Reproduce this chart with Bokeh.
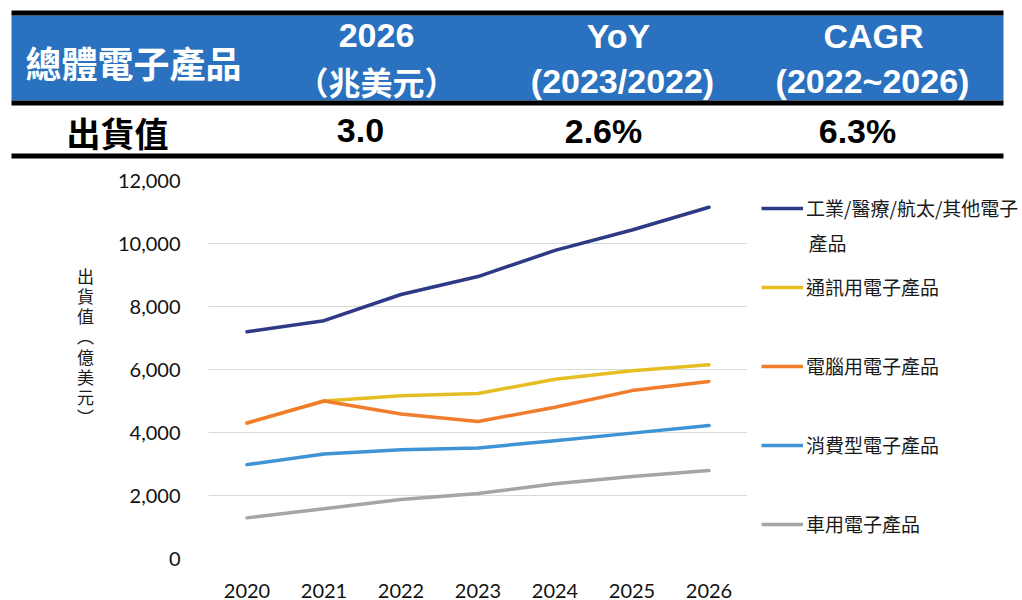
from bokeh.plotting import figure
from bokeh.layouts import column, row
from bokeh.models import (Range1d, FactorRange, FixedTicker, NumeralTickFormatter,
                          Legend, LegendItem)
from bokeh.core.properties import value
from bokeh.embed import file_html
from bokeh.resources import INLINE

# ---------------- data ----------------
years = ["2020", "2021", "2022", "2023", "2024", "2025", "2026"]
industrial = [7200, 7550, 8380, 8950, 9780, 10430, 11150]
communication = [4300, 5000, 5170, 5240, 5690, 5960, 6150]
computer = [4300, 5000, 4590, 4350, 4800, 5330, 5620]
consumer = [2980, 3320, 3450, 3510, 3740, 3980, 4220]
automotive = [1290, 1580, 1870, 2060, 2370, 2600, 2790]

series_names = ["工業/醫療/航太/其他電子", "通訊用電子產品", "電腦用電子產品",
                "消費型電子產品", "車用電子產品"]
series_name_tail = "產品"
series_colors = ["#2e3a86", "#e6be23", "#f07c2c", "#3d93d4", "#a5a5a5"]
y_ticks = [0, 2000, 4000, 6000, 8000, 10000, 12000]
y_label_chars = ["出", "貨", "值", "︵", "億", "美", "元", "︶"]

header_title = "總體電子產品"
header_cols_line1 = ["2026", "YoY", "CAGR"]
header_cols_line2 = ["（兆美元）", "(2023/2022)", "(2022~2026)"]
row_label = "出貨值"
row_values = ["3.0", "2.6%", "6.3%"]

CJK = "Noto Sans CJK TC"
LAT = "Liberation Sans"
BLUE = "#2a72bf"
TXT = "#1a1a1a"

# ---------------- header table ----------------
W = 1022
hdr = figure(width=W, height=160, x_range=Range1d(0, W), y_range=Range1d(160, 0),
             x_axis_type=None, y_axis_type=None, toolbar_location=None,
             output_backend="svg", min_border=0, outline_line_color=None)
hdr.grid.visible = False
hdr.quad(left=[11], right=[1003], top=[15], bottom=[100], color=BLUE, line_color=None)
hdr.quad(left=[11, 11, 11], right=[1003, 1003, 1003], top=[10, 100, 153],
         bottom=[15, 105, 158], color="black", line_color=None)

hdr.text(x=[133], y=[61], text=[header_title], text_align="center", text_baseline="middle",
         text_font=value(CJK), text_font_size="36px", text_font_style="bold",
         text_color="white")
hdr.text(x=[376, 618, 873], y=[35, 35, 35], text=header_cols_line1, text_align="center",
         text_baseline="middle", text_font=value(LAT), text_font_style="bold",
         text_font_size="34px", text_color="white")
hdr.text(x=[376], y=[80], text=[header_cols_line2[0]], text_align="center",
         text_baseline="middle", text_font=value(CJK), text_font_size="32px",
         text_font_style="bold", text_color="white")
hdr.text(x=[622, 872], y=[80, 80], text=header_cols_line2[1:], text_align="center",
         text_baseline="middle", text_font=value(LAT), text_font_style="bold",
         text_font_size="34px", text_color="white")
hdr.text(x=[117], y=[132], text=[row_label], text_align="center", text_baseline="middle",
         text_font=value(CJK), text_font_style="bold", text_font_size="34px",
         text_color="black")
hdr.text(x=[360, 603, 857], y=[130, 130, 130], text=row_values, text_align="center",
         text_baseline="middle", text_font=value(LAT), text_font_style="bold",
         text_font_size="34px", text_color="black")

# shared vertical borders so the frames of the row line up (pixel coordinates)
TOP, BOT, H = 20, 41, 440

# ---------------- y label (vertical, upright characters) ----------------
LW = 110
ylab = figure(width=LW, height=H, x_range=Range1d(0, LW), y_range=Range1d(H - BOT, TOP),
              x_axis_type=None, y_axis_type=None, toolbar_location=None,
              output_backend="svg", min_border_left=0, min_border_right=0,
              min_border_top=TOP, min_border_bottom=BOT, outline_line_color=None)
ylab.grid.visible = False
ylab.text(x=[85] * len(y_label_chars),
          y=[115 + 20.3 * i for i in range(len(y_label_chars))],
          text=y_label_chars, text_align="center", text_baseline="middle",
          text_font=value(CJK), text_font_size="17px", text_color=TXT)

# ---------------- chart ----------------
CW = 747 - LW
p = figure(width=CW, height=H, x_range=FactorRange(*years, range_padding=0),
           y_range=Range1d(0, 12000), toolbar_location=None, output_backend="svg",
           min_border_left=98, min_border_right=0, min_border_top=TOP,
           min_border_bottom=BOT, outline_line_color=None)
p.xgrid.visible = False
p.ygrid.grid_line_color = "#d9d9d9"
p.ygrid.grid_line_width = 1
p.yaxis.ticker = FixedTicker(ticks=y_ticks)
p.yaxis.formatter = NumeralTickFormatter(format="0,0")
for ax in (p.xaxis, p.yaxis):
    ax.axis_line_color = None
    ax.major_tick_line_color = None
    ax.minor_tick_line_color = None
    ax.major_label_text_font = "Lato"
    ax.major_label_text_font_size = "20px"
    ax.major_label_text_color = "#111111"
p.xaxis.major_label_standoff = 19
p.yaxis.major_label_standoff = 22

series = [industrial, communication, computer, consumer, automotive]
renderers = [None] * 5
for idx in [4, 3, 1, 2, 0]:
    renderers[idx] = p.line(years, series[idx], line_color=series_colors[idx],
                            line_width=3.5, line_cap="round", line_join="round")

# ---------------- legend panel ----------------
GW = W - 747
leg = figure(width=GW, height=H, x_range=Range1d(0, GW), y_range=Range1d(H - BOT, TOP),
             x_axis_type=None, y_axis_type=None, toolbar_location=None,
             output_backend="svg", min_border_left=0, min_border_right=0,
             min_border_top=TOP, min_border_bottom=BOT, outline_line_color=None)
leg.grid.visible = False
nan = float("nan")
swatches = [leg.line([nan], [nan], line_color=series_colors[i], line_width=3.5)
            for i in range(5)]
legend = Legend(items=[LegendItem(label=series_names[i], renderers=[swatches[i]])
                       for i in range(5)],
                location="top_left", orientation="vertical",
                label_text_font=CJK, label_text_font_size="19px",
                label_text_color=TXT, glyph_width=42, glyph_height=20,
                label_height=20, label_standoff=3, spacing=52, padding=13, margin=14,
                border_line_color=None, background_fill_alpha=0)
leg.add_layout(legend)
leg.text(x=[61], y=[242 - 160], text=[series_name_tail], text_align="left",
         text_baseline="middle", text_font=value(CJK), text_font_size="19px",
         text_color=TXT)

layout = column(hdr, row(ylab, p, leg, spacing=0), spacing=0)
open("out.html", "w").write(file_html(layout, INLINE))
